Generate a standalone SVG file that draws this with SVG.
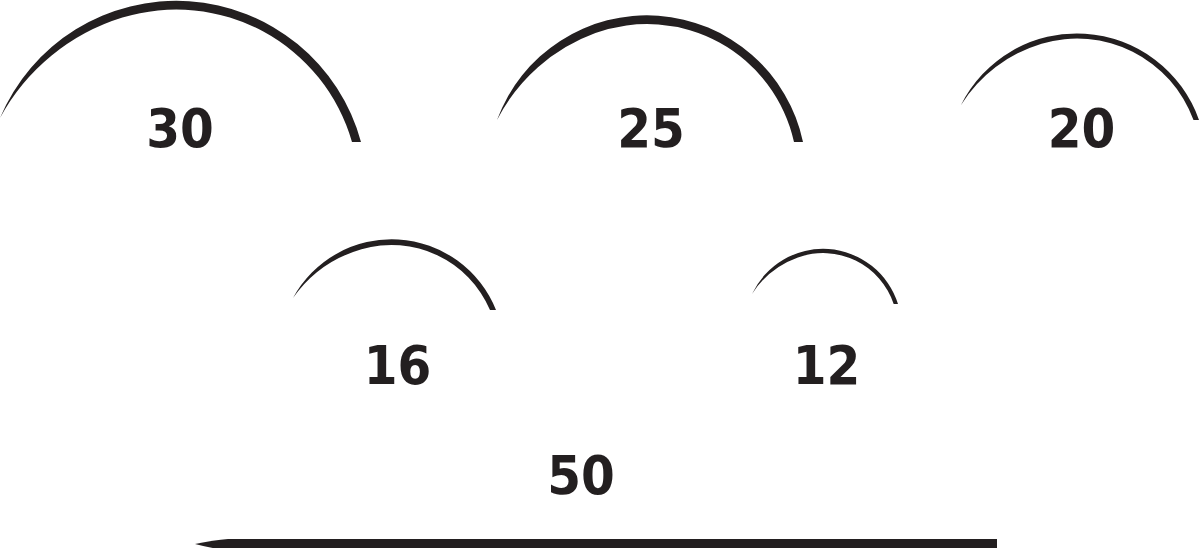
<svg xmlns="http://www.w3.org/2000/svg" width="1200" height="548" viewBox="0 0 1200 548">
<style>
.n{fill:#231f20;stroke:none}
.t{font-family:"DejaVu Sans","Liberation Sans",sans-serif;font-weight:bold;font-stretch:condensed;font-size:54px;fill:#231f20;text-anchor:middle}
</style>
<rect width="1200" height="548" fill="#fff"/>
<g id="needle-30">
<path class="n" d="M0,118 A191.3,191.3 0 0 1 361,142 L352,142 A182.8,182.8 0 0 0 122.4,17.6 A209.3,209.3 0 0 0 0,118 Z"/>
<text class="t" x="180" y="147">30</text>
</g>
<g id="needle-25">
<path class="n" d="M497,120 A159.6,159.6 0 0 1 803,142 L794,142 A150.6,150.6 0 0 0 595.4,33.1 A179.7,179.7 0 0 0 497,120 Z"/>
<text class="t" x="651" y="147">25</text>
</g>
<g id="needle-20">
<path class="n" d="M961,105 A129.5,129.5 0 0 1 1199,120 L1193.5,120 A124,124 0 0 0 1041.6,43.7 A143.5,143.5 0 0 0 961,105 Z"/>
<text class="t" x="1081.5" y="147">20</text>
</g>
<g id="needle-16">
<path class="n" d="M293,298 A112.3,112.3 0 0 1 496,310 L490,310 A107.3,107.3 0 0 0 361.5,249.2 A127,127 0 0 0 293,298 Z"/>
<text class="t" x="397.5" y="384">16</text>
</g>
<g id="needle-12">
<path class="n" d="M752,294 A78.5,78.5 0 0 1 898,304 L893.7,304 A74.5,74.5 0 0 0 797.9,257.4 A90.6,90.6 0 0 0 752,294 Z"/>
<text class="t" x="826.5" y="384">12</text>
</g>
<g id="needle-50">
<path class="n" d="M195,544 Q214,540 228,539 L997,539 L997,550 L228,550 Q214,549 195,544 Z"/>
<text class="t" x="581" y="494">50</text>
</g>
<g id="connectors"/>
</svg>
